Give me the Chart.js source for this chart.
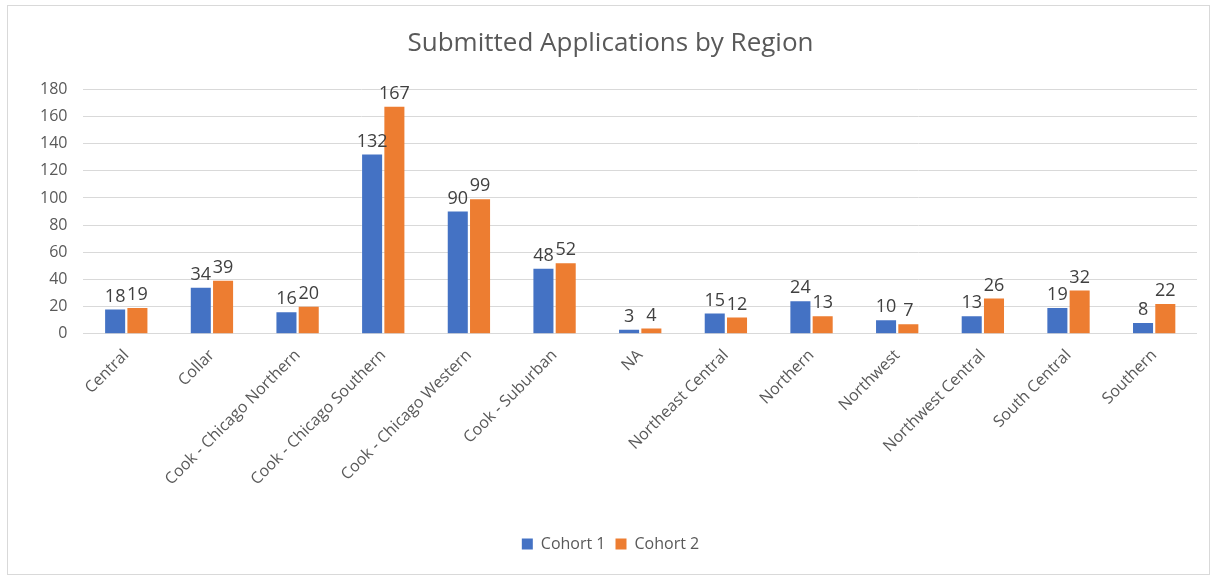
<!DOCTYPE html>
<html>
<head>
<meta charset="utf-8">
<script src="https://cdn.jsdelivr.net/npm/chart.js@4"></script>
<style>
  body { margin: 0; background: #fff; }
  #wrap { position: absolute; left: 7px; top: 5px; width: 1203px; height: 570px; border: 1px solid #d9d9d9; box-sizing: border-box; }
</style>
</head>
<body>
<div id="wrap"><canvas id="chart"></canvas></div>
<script>
const regions = ['Central', 'Collar', 'Cook - Chicago Northern', 'Cook - Chicago Southern', 'Cook - Chicago Western',
  'Cook - Suburban', 'NA', 'Northeast Central', 'Northern', 'Northwest', 'Northwest Central', 'South Central', 'Southern'];
const cohort1 = [18, 34, 16, 132, 90, 48, 3, 15, 24, 10, 13, 19, 8];
const cohort2 = [19, 39, 20, 167, 99, 52, 4, 12, 13, 7, 26, 32, 22];
const yTicks = [0, 20, 40, 60, 80, 100, 120, 140, 160, 180];

const font = "'Open Sans', 'Noto Sans', sans-serif";

// draws the value above every bar
const valueLabels = {
  id: 'valueLabels',
  afterDatasetsDraw(chart) {
    const ctx = chart.ctx;
    ctx.save();
    ctx.font = '18px ' + font;
    ctx.fillStyle = '#404040';
    ctx.textAlign = 'center';
    ctx.textBaseline = 'bottom';
    chart.data.datasets.forEach((ds, i) => {
      chart.getDatasetMeta(i).data.forEach((bar, j) => {
        ctx.fillText(ds.data[j], bar.x, bar.y - 4);
      });
    });
    ctx.restore();
  }
};

new Chart(document.getElementById('chart'), {
  type: 'bar',
  data: {
    labels: regions,
    datasets: [
      { label: 'Cohort 1', data: cohort1, backgroundColor: '#4472c4' },
      { label: 'Cohort 2', data: cohort2, backgroundColor: '#ed7d31' }
    ]
  },
  options: {
    responsive: true,
    maintainAspectRatio: false,
    animation: false,
    categoryPercentage: 0.52,
    barPercentage: 0.9,
    layout: { padding: { left: 16, right: 12, top: 8, bottom: 12 } },
    plugins: {
      title: {
        display: true,
        text: 'Submitted Applications by Region',
        color: '#595959',
        font: { family: font, size: 26, weight: 'normal' },
        padding: { top: 14, bottom: 30 }
      },
      legend: {
        position: 'bottom',
        labels: {
          color: '#595959',
          font: { family: font, size: 16 },
          boxWidth: 11,
          boxHeight: 11,
          padding: 10
        }
      },
      tooltip: { enabled: false }
    },
    scales: {
      x: {
        grid: { display: false },
        border: { display: false },
        ticks: {
          color: '#595959',
          font: { family: font, size: 16 },
          maxRotation: 45,
          minRotation: 45,
          padding: 4
        },
        afterFit(scale) { scale.height += 33; }
      },
      y: {
        min: 0,
        max: 180,
        afterBuildTicks(scale) { scale.ticks = yTicks.map(v => ({ value: v })); },
        grid: { color: '#d9d9d9', drawTicks: false },
        border: { display: false },
        ticks: {
          color: '#595959',
          font: { family: font, size: 16 },
          padding: 16
        }
      }
    }
  },
  plugins: [valueLabels]
});
</script>
</body>
</html>
